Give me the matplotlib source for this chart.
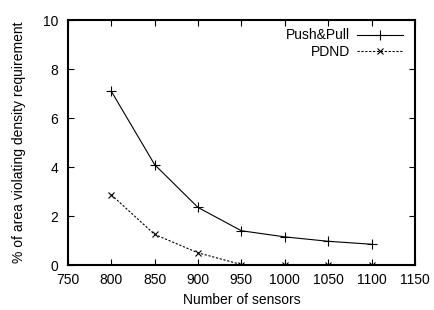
import numpy as np
import matplotlib
matplotlib.use("agg")
import matplotlib.pyplot as plt

plt.rcParams['font.family'] = ['Liberation Sans', 'DejaVu Sans']

sensors = [800, 850, 900, 950, 1000, 1050, 1100]
push_pull = [7.1, 4.1, 2.35, 1.4, 1.15, 0.97, 0.85]
pdnd = [2.87, 1.25, 0.5, 0.02, 0.02, 0.02, 0.02]

fig = plt.figure(figsize=(4.35, 3.1), dpi=100)
ax = fig.add_axes([0.156, 0.145, 0.798, 0.79])

ax.plot(sensors, push_pull, 'k-', marker='+', ms=7, mew=0.8, lw=0.8, label="Push&Pull")
ax.plot(sensors, pdnd, 'k', ls=(0, (2, 1.5)), marker='x', ms=5, mew=0.8, lw=0.8, label="PDND")

ax.set_xlim(750, 1150)
ax.set_ylim(0, 10)
ax.set_xticks(np.arange(750, 1151, 50))
ax.set_yticks(np.arange(0, 11, 2))
ax.tick_params(direction='in', top=True, right=True, length=4, width=0.8, labelsize=10)
ax.tick_params(axis='x', pad=6)
ax.tick_params(axis='y', pad=7)
for s in ax.spines.values():
    s.set_linewidth(1.5)

ax.set_xlabel("Number of sensors", fontsize=10, labelpad=4)
ax.set_ylabel("% of area violating density requirement", fontsize=10, labelpad=12)

ax.legend(loc='upper right', frameon=False, markerfirst=False, fontsize=10,
          handlelength=3.3, borderaxespad=0.2, labelspacing=0.15, handletextpad=0.5,
          bbox_to_anchor=(0.99, 1.0))

plt.savefig("out.png", dpi=100)
